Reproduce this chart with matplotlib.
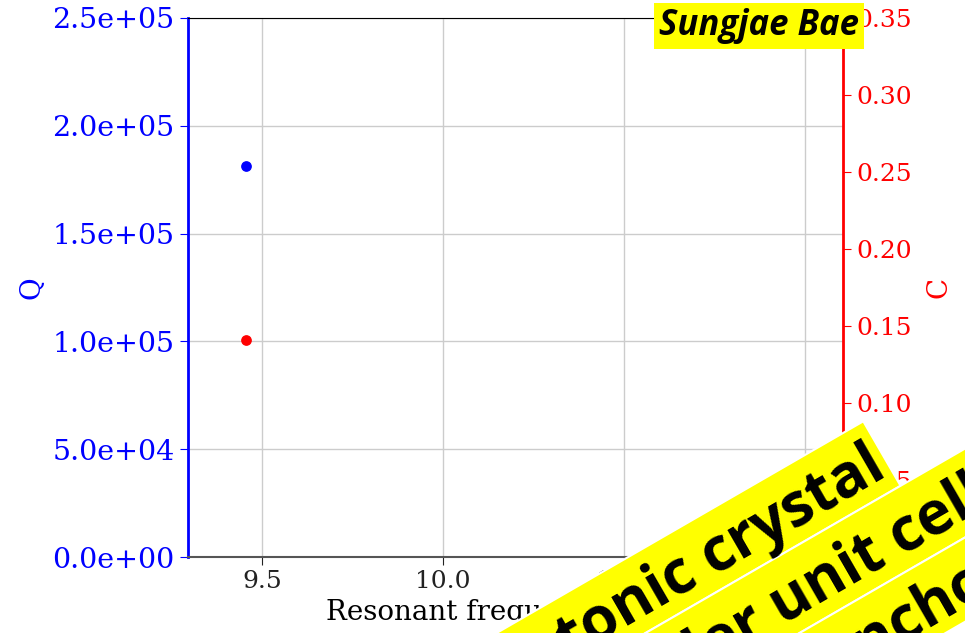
import numpy as np
import matplotlib
matplotlib.use("Agg")
import matplotlib.pyplot as plt
from matplotlib.patches import Rectangle
from matplotlib.transforms import Affine2D

# data
freq = [9.455]          # resonant frequency
q_val = [1.813e5]       # quality factor
c_val = [0.141]         # coupling

x_ticks = [9.5, 10.0, 10.5, 11.0]
q_ticks = [0, 5e4, 1e5, 1.5e5, 2e5, 2.5e5]
c_ticks = [0.0, 0.05, 0.10, 0.15, 0.20, 0.25, 0.30, 0.35]

ribbon_lines = ["Photonic crystal", "Smaller unit cell", "Anchor loss"]

W, H, DPI = 965, 633, 100
plt.rcParams['font.family'] = 'DejaVu Serif'
plt.rcParams['font.size'] = 18

fig = plt.figure(figsize=(W / DPI, H / DPI), dpi=DPI)
ax = fig.add_axes([188 / W, 1 - 557 / H, (843 - 188) / W, (557 - 18) / H])
ax2 = ax.twinx()

ax.scatter(freq, q_val, s=45, color='#0000ff', zorder=3)
ax2.scatter(freq, c_val, s=45, color='#ff0000', zorder=3)

ax.set_xlim(9.296, 11.105)
ax.set_ylim(0, 2.5e5)
ax2.set_ylim(0, 0.35)
ax.set_xticks(x_ticks)
ax.set_yticks(q_ticks)
ax2.set_yticks(c_ticks)
ax.set_yticklabels(['%.1e' % v for v in q_ticks], fontsize=20.5)
ax2.set_yticklabels(['%.2f' % v for v in c_ticks])

ax.grid(True, color='#cccccc', linewidth=1)
ax.set_axisbelow(True)

ax.set_xlabel('Resonant frequency (MHz)', fontsize=20, labelpad=4)
ax.set_ylabel('Q', color='#0000ff', fontsize=20, labelpad=5)
ax2.set_ylabel('C', color='#ff0000', fontsize=20, labelpad=10)

ax.tick_params(axis='y', colors='#0000ff', length=6)
ax2.tick_params(axis='y', colors='#ff0000', length=6)
ax.tick_params(axis='x', colors='#222222', length=6)

ax2.spines['left'].set_color('#0000ff')
ax2.spines['left'].set_linewidth(2)
ax2.spines['right'].set_color('#ff0000')
ax2.spines['right'].set_linewidth(2)
ax2.spines['bottom'].set_color('#555555')
ax2.spines['bottom'].set_linewidth(1.5)
ax2.spines['top'].set_color('black')
for s in ax.spines.values():
    s.set_visible(False)

# name tag top right
fig.text(859 / W, 1 - 8 / H, 'Sungjae Bae', ha='right', va='top',
         family='Open Sans', weight='bold', style='italic', fontsize=25,
         color='black', zorder=10,
         bbox=dict(boxstyle='square,pad=0.14', fc='#ffff00', ec='none'))

# yellow ribbons, laid out in a rotated pixel frame (d along, w across)
ribbon = Affine2D().rotate_deg(30).translate(0, H).scale(1 / DPI) + fig.dpi_scale_trans
bands = [(-871, 74.5, 537), (-948, 77, 2000), (-1021, 73, 2000)]
for bot, thick, end in bands:
    fig.add_artist(Rectangle((-600, bot), end + 600, thick, transform=ribbon,
                             fc='#ffff00', ec='white', lw=1.5, zorder=20))

txt_pos = [(532, -856, 'right'), (605, -932, 'right'), (377, -1008, 'left')]
for (d, w, ha), s in zip(txt_pos, ribbon_lines):
    fig.text(d, w, s, transform=ribbon, rotation=30, rotation_mode='anchor',
             ha=ha, va='baseline', family='Open Sans', weight='bold',
             fontsize=43, color='black', zorder=21)

fig.savefig('out.png', dpi=DPI)
